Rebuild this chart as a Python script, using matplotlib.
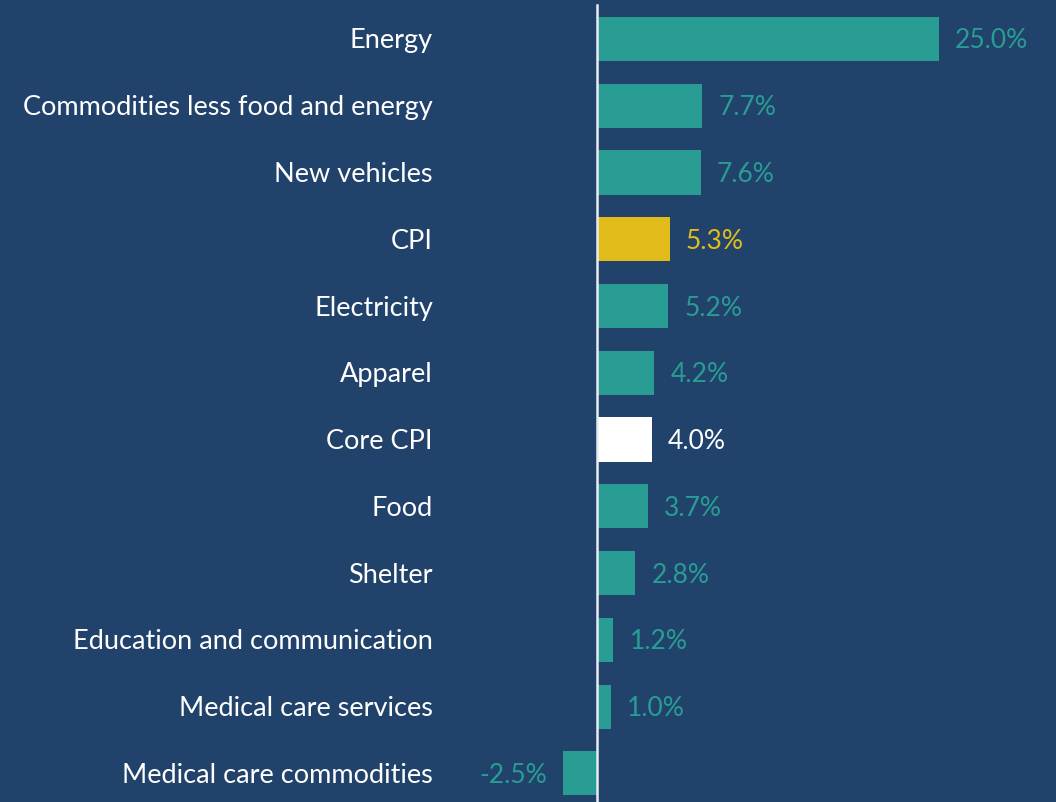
import matplotlib.pyplot as plt

categories = ["Energy", "Commodities less food and energy", "New vehicles", "CPI",
              "Electricity", "Apparel", "Core CPI", "Food", "Shelter",
              "Education and communication", "Medical care services",
              "Medical care commodities"]
values = [25.0, 7.7, 7.6, 5.3, 5.2, 4.2, 4.0, 3.7, 2.8, 1.2, 1.0, -2.5]

BG = "#21436B"
TEAL = "#299D94"
GOLD = "#E2BC1A"
WHITE = "#FFFFFF"

colors = []
for c in categories:
    if c == "CPI":
        colors.append(GOLD)
    elif c == "Core CPI":
        colors.append(WHITE)
    else:
        colors.append(TEAL)

plt.rcParams['font.family'] = ['Lato', 'DejaVu Sans']

fig = plt.figure(figsize=(10.56, 8.02), dpi=100, facecolor=BG)
ax = fig.add_axes([0, 0, 1, 1])
ax.set_facecolor(BG)

px = 13.68  # pixels per percentage point
row = 66.73  # pixels per row
ax.set_xlim(-597 / px, (1056 - 597) / px)
ax.set_ylim(11.43, -0.584)

y = list(range(len(categories)))
ax.barh(y, values, height=0.66, color=colors)
ax.plot([0, 0], [-0.51, 11.43], color="#E8ECF2", lw=1.8)

dy = 2 / row  # nudge text down a touch
for i, (cat, v, col) in enumerate(zip(categories, values, colors)):
    ax.text(-164 / px, i + dy, cat, ha="right", va="center", color="white", fontsize=19.5)
    if v >= 0:
        ax.text(v + 16 / px, i + dy, f"{v:.1f}%", ha="left", va="center", color=col, fontsize=19)
    else:
        ax.text(v - 16 / px, i + dy, f"{v:.1f}%", ha="right", va="center", color=col, fontsize=19)

ax.axis("off")
fig.savefig("out.png", dpi=100, facecolor=BG)
